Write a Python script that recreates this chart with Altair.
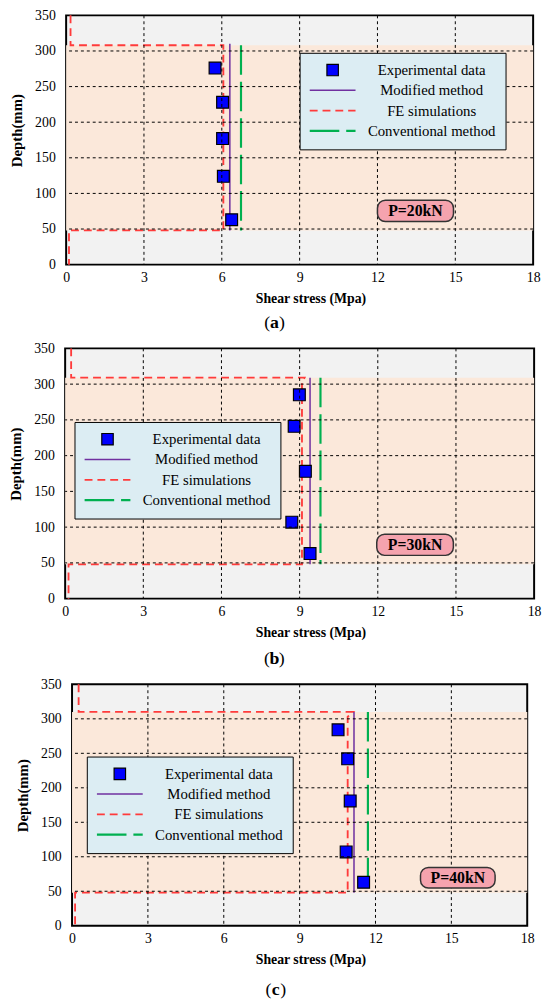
import altair as alt
import pandas as pd

SERIF = "Liberation Serif"
SERIES = ["Experimental data", "Modified method", "FE simulations", "Conventional method"]
X_TICKS = [0, 3, 6, 9, 12, 15, 18]
Y_TICKS = [0, 50, 100, 150, 200, 250, 300, 350]
X_GRID = [3, 6, 9, 12, 15]
Y_GRID = [50, 100, 150, 200, 250, 300]

# ---------- panel (a) P = 20 kN ----------
a_exp_x = [5.74, 6.03, 6.03, 6.06, 6.38]
a_exp_y = [276, 228, 177, 124, 63]
a_fe_x = [0.17, 0.17, 6.06, 6.06, 0.11, 0.11]
a_fe_y = [350, 308, 308, 48, 48, 0]
a_mod_x = [6.31, 6.31]
a_mod_y = [310, 48]
a_conv_x = [6.74, 6.74]
a_conv_y = [308, 48]
a_band = [48, 308]
a_tag = "P=20kN"
a_tag_x = [12.0, 14.93]
a_tag_y = [60.5, 90.4]

# ---------- panel (b) P = 30 kN ----------
b_exp_x = [8.99, 8.79, 9.22, 8.70, 9.40]
b_exp_y = [285, 241, 178, 107, 63]
b_fe_x = [0.23, 0.23, 9.19, 9.09, 9.09, 0.13, 0.13]
b_fe_y = [350, 309, 309, 302, 48, 48, 0]
b_mod_x = [9.40, 9.40]
b_mod_y = [309, 48]
b_conv_x = [9.80, 9.80]
b_conv_y = [309, 48]
b_band = [48, 309]
b_tag = "P=30kN"
b_tag_x = [11.96, 14.90]
b_tag_y = [60.5, 90.0]

# ---------- panel (c) P = 40 kN ----------
c_exp_x = [10.52, 10.90, 11.00, 10.84, 11.53]
c_exp_y = [284, 242, 181, 107, 63]
c_fe_x = [0.26, 0.26, 11.11, 10.90, 10.90, 0.12, 0.12]
c_fe_y = [350, 310, 310, 303, 48, 48, 0]
c_mod_x = [11.15, 11.15]
c_mod_y = [310, 48]
c_conv_x = [11.70, 11.70]
c_conv_y = [310, 48]
c_band = [48, 310]
c_tag = "P=40kN"
c_tag_x = [13.78, 16.73]
c_tag_y = [54.7, 84.4]

# ---------- styles ----------
BLUE, PURPLE, RED, GREEN = "#0000ff", "#7030a0", "#ff3b3b", "#00b050"
BG, BAND, LEG_FILL, PINK = "#f2f2f2", "#fbe8da", "#dcedf3", "#f5a3ae"
GRID_DASH = [3, 3]

fill_scale = alt.Scale(domain=SERIES, range=[BLUE, "transparent", "transparent", "transparent"])
stroke_scale = alt.Scale(domain=SERIES, range=["black", PURPLE, RED, GREEN])
shape_scale = alt.Scale(domain=SERIES, range=["square", "M-4,0L4,0", "M-4,0L4,0", "M-4,0L4,0"])
dash_scale = alt.Scale(domain=SERIES, range=[[1, 0], [1, 0], [8, 5], [30, 7]])
width_scale = alt.Scale(domain=SERIES, range=[1.2, 2.2, 2.2, 2.2])


def panel(exp_x, exp_y, fe_x, fe_y, mod_x, mod_y, conv_x, conv_y, band, tag, tag_x, tag_y,
          letter, W, H, leg_x, leg_y, cap_x, cap_dy):
    xs = alt.Scale(domain=[0, 18], nice=False, zero=False)
    ys = alt.Scale(domain=[0, 350], nice=False, zero=False)
    x_ax = alt.Axis(values=X_TICKS, grid=False, ticks=False, domain=False, labelFlush=False,
                    labelFont=SERIF, labelFontSize=14, labelColor="black", labelPadding=6,
                    title="Shear stress (Mpa)", titleFont=SERIF, titleFontSize=14,
                    titleFontWeight="bold", titleColor="black", titleBaseline="middle",
                    titleX=W / 2 + 11, titleY=34)
    y_ax = alt.Axis(values=Y_TICKS, grid=False, ticks=False, domain=False, labelFlush=False,
                    labelFont=SERIF, labelFontSize=14, labelColor="black", labelPadding=11,
                    title="Depth(mm)", titleFont=SERIF, titleFontSize=15,
                    titleFontWeight="bold", titleColor="black", titleBaseline="middle",
                    titleX=-50, titleY=H / 2 - 10)
    leg = alt.Legend(title=None, orient="none", legendX=leg_x, legendY=leg_y,
                     fillColor=LEG_FILL, strokeColor="black", padding=10,
                     labelFont=SERIF, labelFontSize=15, labelColor="black",
                     labelAlign="center", labelOffset=93, labelLimit=400,
                     symbolOffset=16, rowPadding=4.6, symbolSize=135,
                     symbolStrokeWidth=1.5, symbolFillColor="transparent")

    def X(f):
        return alt.X(f, type="quantitative", scale=xs, axis=x_ax)

    def Y(f):
        return alt.Y(f, type="quantitative", scale=ys, axis=y_ax)

    band_df = pd.DataFrame({"x0": [X_TICKS[0]], "x1": [X_TICKS[-1]], "y0": [band[0]], "y1": [band[1]]})
    band_l = alt.Chart(band_df).mark_rect(color=BAND).encode(x=X("x0"), x2="x1", y=Y("y0"), y2="y1")

    def line_layer(xv, yv, name):
        df = pd.DataFrame({"x": xv, "y": yv, "i": list(range(len(xv))), "s": name})
        return alt.Chart(df).mark_line().encode(
            x=X("x"), y=Y("y"), order=alt.Order("i:Q"),
            stroke=alt.Stroke("s:N", scale=stroke_scale, legend=leg),
            strokeDash=alt.StrokeDash("s:N", scale=dash_scale, legend=leg),
            strokeWidth=alt.StrokeWidth("s:N", scale=width_scale, legend=leg))

    fe_l = line_layer(fe_x, fe_y, SERIES[2])
    mod_l = line_layer(mod_x, mod_y, SERIES[1])
    conv_l = line_layer(conv_x, conv_y, SERIES[3])

    exp_df = pd.DataFrame({"x": exp_x, "y": exp_y, "s": SERIES[0]})
    pts_l = alt.Chart(exp_df).mark_point(filled=True, size=144, opacity=1).encode(
        x=X("x"), y=Y("y"),
        fill=alt.Fill("s:N", scale=fill_scale, legend=leg),
        stroke=alt.Stroke("s:N", scale=stroke_scale, legend=leg),
        shape=alt.Shape("s:N", scale=shape_scale, legend=leg),
        strokeWidth=alt.StrokeWidth("s:N", scale=width_scale, legend=leg))

    gx = alt.Chart(pd.DataFrame({"v": X_GRID})).mark_rule(
        color="black", strokeWidth=1, strokeDash=GRID_DASH).encode(x=X("v"))
    gy = alt.Chart(pd.DataFrame({"v": Y_GRID})).mark_rule(
        color="black", strokeWidth=1, strokeDash=GRID_DASH).encode(y=Y("v"))

    tag_df = pd.DataFrame({"x0": [tag_x[0]], "x1": [tag_x[1]], "y0": [tag_y[0]], "y1": [tag_y[1]],
                           "xm": [(tag_x[0] + tag_x[1]) / 2], "ym": [(tag_y[0] + tag_y[1]) / 2],
                           "t": [tag]})
    tag_box = alt.Chart(tag_df).mark_rect(fill=PINK, stroke="#333333", strokeWidth=1.5,
                                          cornerRadius=8).encode(
        x=X("x0"), x2="x1", y=Y("y0"), y2="y1")
    tag_txt = alt.Chart(tag_df).mark_text(font=SERIF, fontSize=16, fontWeight="bold",
                                          color="black").encode(x=X("xm"), y=Y("ym"), text="t:N")

    cap_y = H + cap_dy
    c1 = alt.Chart(pd.DataFrame({"t": ["("]})).mark_text(
        font=SERIF, fontSize=18, color="black", dx=-7.5).encode(
        x=alt.value(cap_x), y=alt.value(cap_y), text="t:N")
    c2 = alt.Chart(pd.DataFrame({"t": [letter]})).mark_text(
        font=SERIF, fontSize=18, fontWeight="bold", color="black").encode(
        x=alt.value(cap_x), y=alt.value(cap_y), text="t:N")
    c3 = alt.Chart(pd.DataFrame({"t": [")"]})).mark_text(
        font=SERIF, fontSize=18, color="black", dx=7.5).encode(
        x=alt.value(cap_x), y=alt.value(cap_y), text="t:N")

    return alt.layer(band_l, fe_l, mod_l, conv_l, pts_l, gx, gy, tag_box, tag_txt, c1, c2, c3).properties(
        width=W, height=H)


pa = panel(a_exp_x, a_exp_y, a_fe_x, a_fe_y, a_mod_x, a_mod_y, a_conv_x, a_conv_y, a_band,
           a_tag, a_tag_x, a_tag_y, "a", 474, 253, 237, 38, 211.5, 59)
pb = panel(b_exp_x, b_exp_y, b_fe_x, b_fe_y, b_mod_x, b_mod_y, b_conv_x, b_conv_y, b_band,
           b_tag, b_tag_x, b_tag_y, "b", 476, 254, 9.5, 74.7, 212.4, 61)
pc = panel(c_exp_x, c_exp_y, c_fe_x, c_fe_y, c_mod_x, c_mod_y, c_conv_x, c_conv_y, c_band,
           c_tag, c_tag_x, c_tag_y, "c", 462, 245, 15, 73.3, 206.8, 65)

chart = alt.vconcat(pa, pb, pc, spacing=8, center=True).resolve_scale(
    fill="independent", stroke="independent", shape="independent", strokeDash="independent",
    strokeWidth="independent"
).properties(
    padding={"left": 0, "top": -8, "right": 0, "bottom": 0},
    background="white",
).configure_view(fill=BG, stroke="black", strokeWidth=2)

chart.save("out.html", embed_options={"renderer": "svg", "actions": False})
